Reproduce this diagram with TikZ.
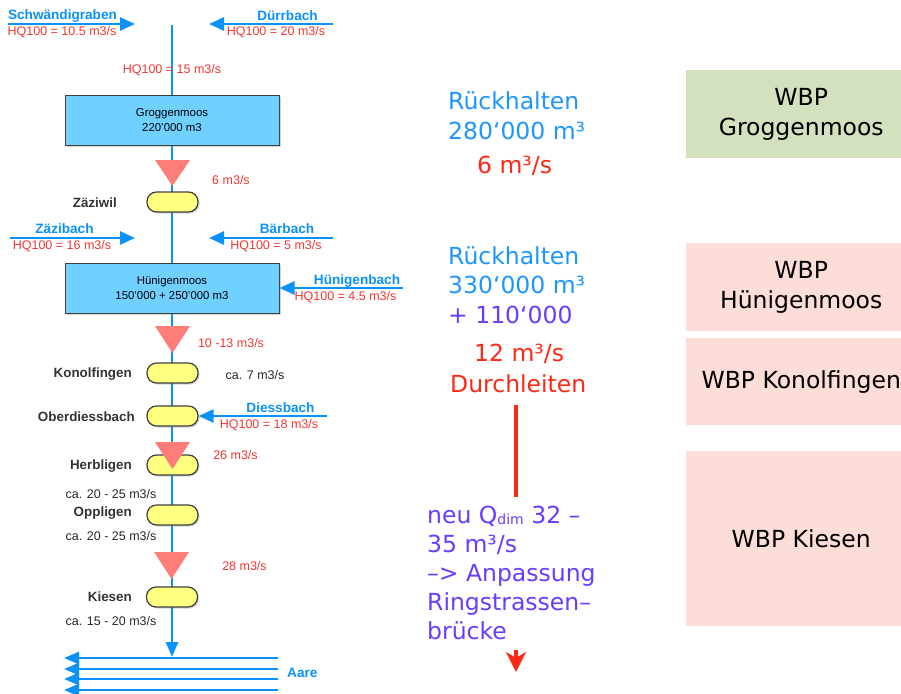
\documentclass[tikz,border=0pt]{standalone}
\usepackage{fontspec}
\setmainfont{Liberation Sans}
\newfontfamily\rfont{DejaVu Sans}
\usetikzlibrary{arrows.meta,shadows}
\definecolor{riverblue}{RGB}{10,145,250}
\definecolor{lblred}{RGB}{240,55,50}
\definecolor{bigred}{RGB}{255,40,20}
\definecolor{bigblue}{RGB}{30,150,255}
\definecolor{purp}{RGB}{105,60,255}
\definecolor{boxblue}{RGB}{112,208,255}
\definecolor{capyellow}{RGB}{255,255,128}
\definecolor{trired}{RGB}{255,125,120}
\definecolor{wbpgreen}{RGB}{212,225,190}
\definecolor{wbppink}{RGB}{253,221,216}
\tikzset{
  river/.style={draw=riverblue,line width=2.6pt,-{Triangle[length=15pt,width=13pt]}},
  rname/.style={font=\bfseries\fontsize{13.6}{14}\selectfont,text=riverblue,inner sep=0pt},
  hq/.style={font=\fontsize{12.5}{14}\selectfont,text=lblred,inner sep=0pt},
  town/.style={font=\bfseries\fontsize{13.4}{14}\selectfont,text=black!80,inner sep=0pt,anchor=east},
  note/.style={font=\fontsize{12.5}{14}\selectfont,text=black!85,inner sep=0pt},
  basin/.style={draw=black!75,line width=1pt,fill=boxblue,minimum width=214pt,minimum height=50pt,
    align=center,font=\fontsize{11.4}{15}\selectfont,drop shadow={shadow xshift=1.5pt,shadow yshift=-1.5pt,opacity=0.35}},
  capsule/.style={draw=black!75,line width=1.2pt,fill=capyellow,minimum width=51pt,minimum height=20pt,
    rounded corners=9.5pt,inner sep=0pt,drop shadow={shadow xshift=1.5pt,shadow yshift=-1.5pt,opacity=0.35}},
  tri/.style={fill=trired},
  big/.style={font=\rfont\fontsize{23.5}{29}\selectfont,inner sep=0pt,anchor=base west},
  wbp/.style={fill=#1,minimum width=230pt,anchor=north west,inner sep=0pt,align=center,
    font=\rfont\fontsize{23.5}{29.5}\selectfont,text=black},
}
\begin{document}
\begin{tikzpicture}[x=1pt,y=-1pt]
\useasboundingbox (0,0) rectangle (901,693);

% main river line
\coordinate (src) at (172,25);
\coordinate (out) at (172,657);
\draw[draw=riverblue,line width=2.6pt,-{Triangle[length=15pt,width=12pt]}] (src) -- (out);

% Aare
\foreach \yy/\nm in {658/a1,669/a2,679/a3,690/a4}{
  \coordinate (\nm s) at (278,\yy);
  \coordinate (\nm e) at (64,\yy);
  \draw[river,-{Triangle[length=15pt,width=12pt]}] (\nm s) -- (\nm e);
}
\node[rname,anchor=west] (aare) at (287,673) {Aare};

% top tributaries
\coordinate (schs) at (8,24); \coordinate (sche) at (135,24);
\draw[river] (schs) -- (sche);
\node[rname] (sch) at (62.5,16) {Schwändigraben};
\node[hq] (schq) at (62,32) {HQ100 = 10.5 m3/s};
\coordinate (durs) at (333,24); \coordinate (dure) at (209,24);
\draw[river] (durs) -- (dure);
\node[rname] (dur) at (287.5,16) {Dürrbach};
\node[hq] (durq) at (276,32) {HQ100 = 20 m3/s};
\node[hq] (q15) at (172,70) {HQ100 = 15 m3/s};

% Groggenmoos
\node[basin] (grog) at (172,120) {Groggenmoos\\220'000 m3};
\fill[tri] (155,160) -- (190,160) -- (172.5,186) -- cycle;
\node[hq] (q6) at (231,180) {6 m3/s};
\node[capsule] (zaz) at (172.5,202) {};
\node[town] (zazl) at (117,203) {Zäziwil};

% Zäzibach / Bärbach
\coordinate (zbs) at (10,238); \coordinate (zbe) at (135,238);
\draw[river] (zbs) -- (zbe);
\node[rname] (zb) at (64.5,229) {Zäzibach};
\node[hq] (zbq) at (62,246) {HQ100 = 16 m3/s};
\coordinate (bbs) at (333,238); \coordinate (bbe) at (209,238);
\draw[river] (bbs) -- (bbe);
\node[rname] (bb) at (287,229) {Bärbach};
\node[hq] (bbq) at (276,246) {HQ100 = 5 m3/s};

% Hünigenmoos
\node[basin] (hun) at (172,288) {Hünigenmoos\\150'000 + 250'000 m3};
\coordinate (hbs) at (403,288);
\draw[river] (hbs) -- (hun.east);
\node[rname] (hb) at (357,281) {Hünigenbach};
\node[hq] (hbq) at (345.5,297) {HQ100 = 4.5 m3/s};
\fill[tri] (155,326) -- (190,326) -- (172.5,353) -- cycle;
\node[hq] (q1013) at (231,343) {10 -13 m3/s};

% Konolfingen
\node[capsule] (kon) at (172.5,373) {};
\node[town] (konl) at (132,374) {Konolfingen};
\node[note] (q7) at (255,375) {ca. 7 m3/s};

% Oberdiessbach
\node[capsule] (obd) at (172.5,416) {};
\node[town] (obdl) at (135,417) {Oberdiessbach};
\coordinate (dbs) at (327,416);
\draw[river] (dbs) -- (obd.east);
\node[rname] (db) at (280.5,408) {Diessbach};
\node[hq] (dbq) at (269,425) {HQ100 = 18 m3/s};

% Herbligen
\node[capsule] (her) at (172.5,465) {};
\fill[tri] (155,442) -- (190,442) -- (172.5,469) -- cycle;
\node[town] (herl) at (132,466) {Herbligen};
\node[hq] (q26) at (235.5,455) {26 m3/s};
\node[note] (c1) at (111,494) {ca. 20 - 25 m3/s};

% Oppligen
\node[capsule] (opp) at (172.5,515) {};
\node[town] (oppl) at (132,513) {Oppligen};
\node[note] (c2) at (111,536) {ca. 20 - 25 m3/s};
\fill[tri] (154,552) -- (189,552) -- (171.5,579) -- cycle;
\node[hq] (q28) at (244.5,566) {28 m3/s};

% Kiesen
\node[capsule] (kie) at (172,597) {};
\node[town] (kiel) at (132,597) {Kiesen};
\node[note] (c3) at (111,621) {ca. 15 - 20 m3/s};

% right column texts
\node[big,text=bigblue] (r1) at (448,109) {Rückhalten};
\node[big,text=bigblue] (r2) at (448,139) {280‘000 m³};
\node[big,text=bigred] (r3) at (477,173) {6 m³/s};
\node[big,text=bigblue] (r4) at (448,264) {Rückhalten};
\node[big,text=bigblue] (r5) at (448,293) {330‘000 m³};
\node[big,text=purp] (r6) at (448,323) {+ 110‘000};
\node[big,text=bigred] (r7) at (474,361) {12 m³/s};
\node[big,text=bigred] (r8) at (450,392) {Durchleiten};

% red arrow behind text
\coordinate (ra) at (516,405);
\coordinate (rb) at (516,672);
\draw[draw=bigred,line width=4pt,-{Stealth[length=20pt,width=20pt,inset=6pt]}] (ra) -- (rb);
\fill[white] (424,497) rectangle (610,650);
\node[big,text=purp] (p1) at (427,523) {neu Q\raisebox{-1.5pt}{\fontsize{14}{14}\selectfont dim} 32 –};
\node[big,text=purp] (p2) at (427,552) {35 m³/s};
\node[big,text=purp] (p3) at (427,581) {–> Anpassung};
\node[big,text=purp] (p4) at (427,610) {Ringstrassen–};
\node[big,text=purp] (p5) at (427,639) {brücke};

% WBP boxes
\node[wbp=wbpgreen,minimum height=88pt] (w1) at (686,70) {WBP\\Groggenmoos};
\node[wbp=wbppink,minimum height=88pt] (w2) at (686,243) {WBP\\Hünigenmoos};
\node[wbp=wbppink,minimum height=87pt] (w3) at (686,338) {WBP Konolfingen};
\node[wbp=wbppink,minimum height=175pt] (w4) at (686,451) {WBP Kiesen};
\end{tikzpicture}
\end{document}
